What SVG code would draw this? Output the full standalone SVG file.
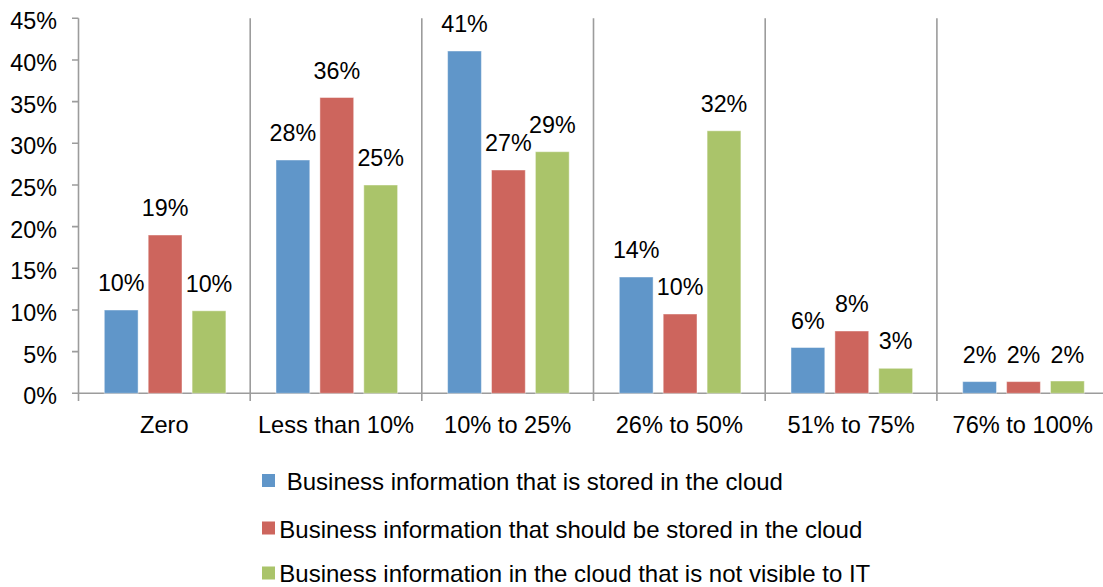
<svg xmlns="http://www.w3.org/2000/svg" width="1103" height="587" viewBox="0 0 1103 587">
<style>
text{font-family:"Liberation Sans",Arial,sans-serif;fill:#000}
.ax{stroke:#9C9C9C;stroke-width:1.6;fill:none}
.yl{font-size:23.3px;text-anchor:end}
.dl{font-size:23.3px;text-anchor:middle}
.cl{font-size:23.6px;text-anchor:middle}
.lg{font-size:24px}
.b{fill:#6096C9}
.r{fill:#CD655D}
.g{fill:#AAC46A}
.bar{stroke:#ffffff;stroke-opacity:0.45;stroke-width:1}
</style>
<rect width="1103" height="587" fill="#ffffff"/>
<g id="axes">
<path class="ax" d="M78.5 18.3V401M250.2 18.3V401M421.8 18.3V401M593.5 18.3V401M765.2 18.3V401M936.9 18.3V401M72 393.3H1103"/>
<path class="ax" d="M72 18.3H78.5M72 60H78.5M72 101.6H78.5M72 143.3H78.5M72 185H78.5M72 226.6H78.5M72 268.3H78.5M72 310H78.5M72 351.6H78.5"/>
<text class="yl" x="57" y="29.3">45%</text>
<text class="yl" x="57" y="71">40%</text>
<text class="yl" x="57" y="112.7">35%</text>
<text class="yl" x="57" y="154.3">30%</text>
<text class="yl" x="57" y="196">25%</text>
<text class="yl" x="57" y="237.7">20%</text>
<text class="yl" x="57" y="279.3">15%</text>
<text class="yl" x="57" y="321">10%</text>
<text class="yl" x="57" y="362.7">5%</text>
<text class="yl" x="57" y="404.3">0%</text>
<text class="cl" x="164.3" y="432.5">Zero</text>
<text class="cl" x="336" y="432.5">Less than 10%</text>
<text class="cl" x="507.7" y="432.5">10% to 25%</text>
<text class="cl" x="679.3" y="432.5">26% to 50%</text>
<text class="cl" x="851" y="432.5">51% to 75%</text>
<text class="cl" x="1022.7" y="432.5">76% to 100%</text>
</g>
<g id="cat-zero">
<rect class="bar b" x="104.3" y="310" width="33.8" height="83.3"/>
<rect class="bar r" x="148.2" y="235" width="33.8" height="158.3"/>
<rect class="bar g" x="192.1" y="310.8" width="33.8" height="82.5"/>
<text class="dl" x="121.2" y="291">10%</text>
<text class="dl" x="165.1" y="216">19%</text>
<text class="dl" x="209" y="291.8">10%</text>
</g>
<g id="cat-less10">
<rect class="bar b" x="276" y="160" width="33.8" height="233.3"/>
<rect class="bar r" x="319.9" y="97.5" width="33.8" height="295.8"/>
<rect class="bar g" x="363.8" y="185" width="33.8" height="208.3"/>
<text class="dl" x="292.9" y="141">28%</text>
<text class="dl" x="336.8" y="78.5">36%</text>
<text class="dl" x="380.7" y="166">25%</text>
</g>
<g id="cat-10-25">
<rect class="bar b" x="447.6" y="51" width="33.8" height="342.3"/>
<rect class="bar r" x="491.5" y="170" width="33.8" height="223.3"/>
<rect class="bar g" x="535.4" y="151.7" width="33.8" height="241.6"/>
<text class="dl" x="464.5" y="32">41%</text>
<text class="dl" x="508.4" y="151">27%</text>
<text class="dl" x="552.3" y="132.7">29%</text>
</g>
<g id="cat-26-50">
<rect class="bar b" x="619.3" y="277" width="33.8" height="116.3"/>
<rect class="bar r" x="663.2" y="314" width="33.8" height="79.3"/>
<rect class="bar g" x="707.1" y="130.8" width="33.8" height="262.5"/>
<text class="dl" x="636.2" y="258">14%</text>
<text class="dl" x="680.1" y="295">10%</text>
<text class="dl" x="724" y="111.8">32%</text>
</g>
<g id="cat-51-75">
<rect class="bar b" x="791" y="347.5" width="33.8" height="45.8"/>
<rect class="bar r" x="834.9" y="331" width="33.8" height="62.3"/>
<rect class="bar g" x="878.8" y="368.3" width="33.8" height="25"/>
<text class="dl" x="807.9" y="328.5">6%</text>
<text class="dl" x="851.8" y="312">8%</text>
<text class="dl" x="895.7" y="349.3">3%</text>
</g>
<g id="cat-76-100">
<rect class="bar b" x="962.7" y="381.6" width="33.8" height="11.7"/>
<rect class="bar r" x="1006.6" y="381.6" width="33.8" height="11.7"/>
<rect class="bar g" x="1050.5" y="381" width="33.8" height="12.3"/>
<text class="dl" x="979.6" y="362.6">2%</text>
<text class="dl" x="1023.5" y="362.6">2%</text>
<text class="dl" x="1067.4" y="362.6">2%</text>
</g>
<g id="legend">
<rect class="b" x="262" y="474" width="13" height="13"/>
<text class="lg" x="286.7" y="490">Business information that is stored in the cloud</text>
<rect class="r" x="262" y="521.5" width="13" height="13"/>
<text class="lg" x="279.3" y="537.5">Business information that should be stored in the cloud</text>
<rect class="g" x="262" y="566.5" width="13" height="13"/>
<text class="lg" x="279.3" y="581.5">Business information in the cloud that is not visible to IT</text>
</g>
</svg>
